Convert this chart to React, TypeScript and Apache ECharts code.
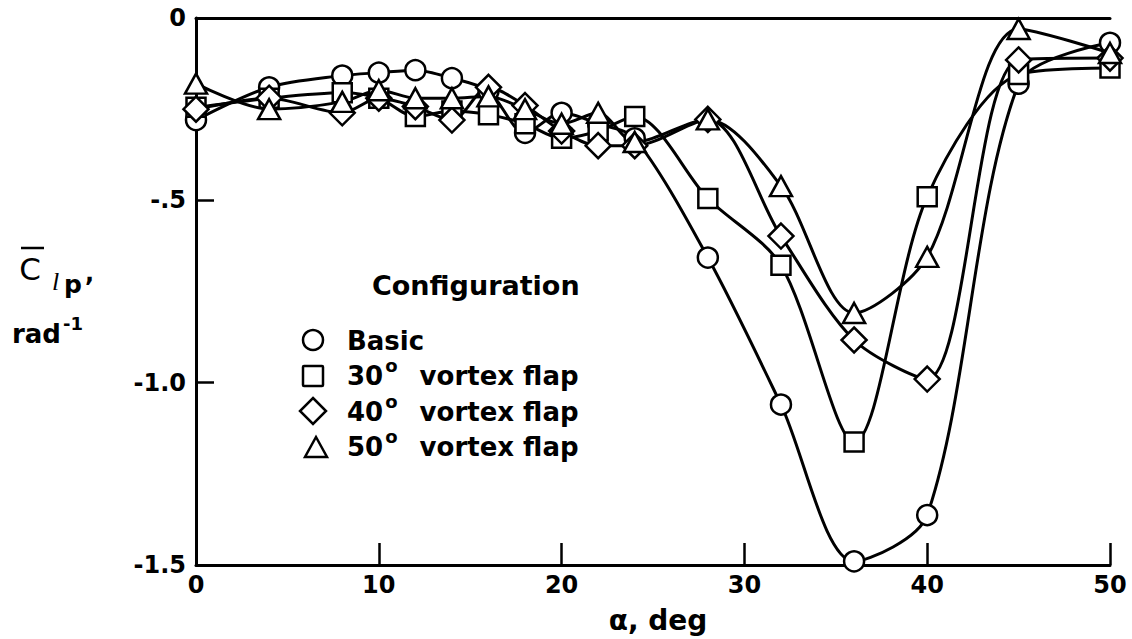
import React, { useEffect, useRef } from "react";
import * as echarts from "echarts";

// Angle of attack, deg
const alpha = [0, 4, 8, 10, 12, 14, 16, 18, 20, 22, 24, 28, 32, 36, 40, 45, 50];

// C_lp, rad^-1
const basic = [-0.28, -0.19, -0.158, -0.15, -0.143, -0.165, -0.2, -0.315, -0.26, -0.29, -0.33, -0.657, -1.06, -1.49, -1.363, -0.18, -0.068];
const flap30 = [-0.245, -0.22, -0.205, -0.22, -0.27, -0.255, -0.265, -0.29, -0.33, -0.31, -0.27, -0.495, -0.678, -1.163, -0.49, -0.155, -0.137];
const flap40 = [-0.25, -0.22, -0.26, -0.22, -0.243, -0.28, -0.19, -0.24, -0.31, -0.35, -0.35, -0.278, -0.598, -0.883, -0.99, -0.115, -0.11];
const flap50 = [-0.18, -0.25, -0.23, -0.198, -0.22, -0.22, -0.215, -0.25, -0.29, -0.26, -0.34, -0.278, -0.461, -0.809, -0.655, -0.03, -0.096];

const seriesNames = ["Basic", "30° vortex flap", "40° vortex flap", "50° vortex flap"];
const yTickValues = [-1.5, -1.0, -0.5, 0];
const yTickLabels = ["-1.5", "-1.0", "-.5", "0"];

const FONT = "DejaVu Sans";

export default function App() {
  const ref = useRef<HTMLDivElement>(null);

  useEffect(() => {
    document.body.style.margin = "0";
    if (!ref.current) return;
    const chart = echarts.init(ref.current, undefined, { renderer: "svg" });

    const mk = (name: string, vals: number[], symbol: string, size: any) => ({
      type: "line",
      name,
      data: alpha.map((a, i) => [a, vals[i]]),
      symbol,
      symbolSize: size,
      showAllSymbol: true,
      smooth: 0.3,
      lineStyle: { color: "#000", width: 3 },
      itemStyle: { color: "#fff", borderColor: "#000", borderWidth: 2.5 },
      emphasis: { disabled: true },
    });

    const supRich = (padRight: number) => ({
      base: { fontSize: 26, fontWeight: "bold", fontFamily: FONT, lineHeight: 40, verticalAlign: "middle" },
      sup: {
        fontSize: 18,
        fontWeight: "bold",
        fontFamily: FONT,
        lineHeight: 18,
        verticalAlign: "top",
        padding: [0, padRight, 0, 2],
      },
    });

    const legendText = (y: number, num: string, rest: string) => ({
      type: "text",
      x: 347,
      y,
      style: {
        text: `{base|${num}}{sup|o}{base|${rest}}`,
        fill: "#000",
        textVerticalAlign: "middle",
        rich: supRich(13),
      },
    });

    const markerStyle = { fill: "#fff", stroke: "#000", lineWidth: 2.5 };

    chart.setOption({
      animation: false,
      backgroundColor: "#fff",
      grid: { left: 196, right: 22, top: 18, bottom: 74 },
      xAxis: [
        {
          type: "value",
          min: 0,
          max: 50,
          interval: 10,
          position: "bottom",
          axisLine: { show: true, onZero: false, lineStyle: { color: "#000", width: 3 } },
          axisTick: { show: true, inside: true, length: 22, lineStyle: { color: "#000", width: 2.5 } },
          axisLabel: { color: "#000", fontSize: 24, fontWeight: "bold", fontFamily: FONT, margin: 8 },
          splitLine: { show: false },
        },
        {
          type: "value",
          min: 0,
          max: 50,
          position: "top",
          axisLine: { show: true, onZero: false, lineStyle: { color: "#000", width: 3 } },
          axisTick: { show: false },
          axisLabel: { show: false },
          splitLine: { show: false },
        },
      ],
      yAxis: {
        type: "value",
        min: -1.5,
        max: 0,
        interval: 0.5,
        axisLine: { show: true, onZero: false, lineStyle: { color: "#000", width: 3 } },
        axisTick: { show: true, inside: true, length: 18, lineStyle: { color: "#000", width: 2.5 } },
        axisLabel: {
          color: "#000",
          fontSize: 24,
          fontWeight: "bold",
          fontFamily: FONT,
          margin: 10,
          formatter: (v: number) => {
            const i = yTickValues.findIndex((t) => Math.abs(t - v) < 1e-6);
            return i >= 0 ? yTickLabels[i] : "";
          },
        },
        splitLine: { show: false },
      },
      series: [
        mk(seriesNames[0], basic, "circle", 20),
        mk(seriesNames[1], flap30, "rect", 19),
        mk(seriesNames[2], flap40, "diamond", [25, 25]),
        mk(seriesNames[3], flap50, "triangle", [22, 20]),
      ],
      graphic: [
        // x-axis title
        {
          type: "text",
          x: 658,
          y: 620,
          style: { text: "α, deg", fill: "#000", font: `bold 28px "${FONT}"`, textAlign: "center", textVerticalAlign: "middle" },
        },
        // y-axis title: C-bar l p , rad^-1
        { type: "line", shape: { x1: 21, y1: 248, x2: 44, y2: 248 }, style: { stroke: "#000", lineWidth: 2.5 } },
        {
          type: "text",
          x: 30,
          y: 269,
          style: { text: "C", fill: "#000", font: `normal 31px "${FONT}"`, textAlign: "center", textVerticalAlign: "middle" },
        },
        {
          type: "text",
          x: 52,
          y: 281,
          style: { text: "l", fill: "#000", font: `italic 26px "Liberation Serif"`, textVerticalAlign: "middle" },
        },
        {
          type: "text",
          x: 64,
          y: 284,
          style: { text: "p", fill: "#000", font: `bold 25px "${FONT}"`, textVerticalAlign: "middle" },
        },
        {
          type: "text",
          x: 85,
          y: 273,
          style: { text: ",", fill: "#000", font: `bold 24px "${FONT}"`, textVerticalAlign: "middle" },
        },
        {
          type: "text",
          x: 12,
          y: 334,
          style: {
            text: "{base|rad}{sup|-1}",
            fill: "#000",
            textVerticalAlign: "middle",
            rich: supRich(0),
          },
        },
        // legend
        {
          type: "text",
          x: 372,
          y: 285,
          style: { text: "Configuration", fill: "#000", font: `bold 27px "${FONT}"`, textVerticalAlign: "middle" },
        },
        { type: "circle", shape: { cx: 313, cy: 340, r: 10 }, style: markerStyle },
        {
          type: "text",
          x: 347,
          y: 341,
          style: { text: "Basic", fill: "#000", font: `bold 26px "${FONT}"`, textVerticalAlign: "middle" },
        },
        { type: "rect", shape: { x: 303, y: 366, width: 20, height: 20, r: 1 }, style: markerStyle },
        legendText(376, "30", " vortex flap"),
        { type: "polygon", shape: { points: [[313, 398], [326, 411], [313, 424], [300, 411]] }, style: markerStyle },
        legendText(412, "40", " vortex flap"),
        { type: "polygon", shape: { points: [[316, 437], [327, 457], [305, 457]] }, style: markerStyle },
        legendText(447, "50", " vortex flap"),
      ],
    });

    return () => chart.dispose();
  }, []);

  return <div ref={ref} style={{ width: 1132, height: 639 }} />;
}
